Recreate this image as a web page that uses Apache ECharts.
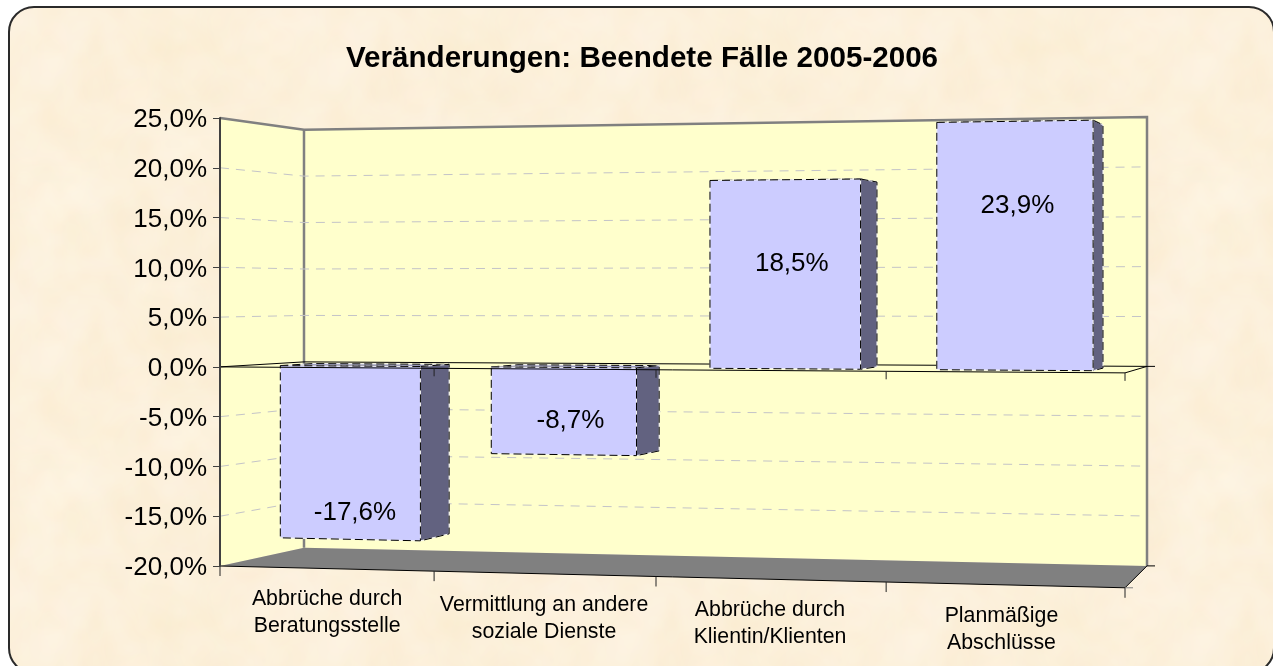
<!DOCTYPE html>
<html><head><meta charset="utf-8">
<style>html,body{margin:0;padding:0;background:#fff}#c{width:1273px;height:666px}</style>
<script src="https://cdn.jsdelivr.net/npm/echarts@6/dist/echarts.min.js"></script>
</head><body><div id="c"></div>
<script>
// ---- data ----
const titleText = 'Veränderungen: Beendete Fälle 2005-2006';
const categories = ['Abbrüche durch\nBeratungsstelle', 'Vermittlung an andere\nsoziale Dienste', 'Abbrüche durch\nKlientin/Klienten', 'Planmäßige\nAbschlüsse'];
const values = [-17.6, -8.7, 18.5, 23.9];
const gridValues = [20, 15, 10, 5, -5, -10, -15];
const yMin = -20, yMax = 25, yStep = 5;
// ---- style / projection constants ----
const FONT = '"Liberation Sans", Arial, sans-serif';
const grid = {left: 220, top: 118, width: 905, height: 448};
const warpC = 0.07036;               // horizontal perspective of the front plane
const shift = {left: 84, right: 22}; // front->back x shift
const plane = {                      // zero line and vertical scale (relative to y-axis) per plane
  frontY0: [0, 6], frontS: [1, 1.0793],
  backY0: [-5, -0.5], backS: [0.933, 1.002]
};
const barU = [0.17, 0.838], barD = [0.3, 0.7];
const labelFrac = [0.847, 0.61, 0.555, 0.66];
const labelDx = [5, 7, 7, 3];
const catDx = [1, 0, 0, -3];

const lerp = (a, b, t) => a + (b - a) * t;
function projector(api) {
  const zeroY = api.coord([0, 0])[1];
  return function (u, v, d) {
    const n = u / categories.length;
    const t = n * (1 - warpC) / (1 - warpC * n);
    const xF = grid.left + t * grid.width;
    const x = xF + lerp(shift.left, shift.right, t) * d;
    const dy = api.coord([0, v])[1] - zeroY;
    const y0 = lerp(lerp(plane.frontY0[0], plane.frontY0[1], t), lerp(plane.backY0[0], plane.backY0[1], t), d);
    const s = lerp(lerp(plane.frontS[0], plane.frontS[1], t), lerp(plane.backS[0], plane.backS[1], t), d);
    return [x, zeroY + y0 + dy * s];
  };
}
const poly = (pts, fill, z2) => ({type: 'polygon', shape: {points: pts}, z2: z2 || 0, style: {fill: fill, stroke: 'none'}});
const line = (a, b, stroke, w, dash, z2) => ({type: 'line', z2: z2 || 1, shape: {x1: a[0], y1: a[1], x2: b[0], y2: b[1]},
  style: {stroke: stroke, lineWidth: w || 1, lineDash: dash || null, fill: 'none'}});
const pl = (pts, stroke, w, dash, z2) => ({type: 'polyline', z2: z2 || 1, shape: {points: pts},
  style: {stroke: stroke, lineWidth: w || 1, lineDash: dash || null, fill: 'none'}});

function renderWalls(params, api) {
  const P = projector(api), U = categories.length;
  const ch = [];
  ch.push(poly([P(0, yMax, 0), P(0, yMax, 1), P(0, yMin, 1), P(0, yMin, 0)], '#FFFFCC'));
  ch.push(poly([P(0, yMax, 1), P(U, yMax, 1), P(U, yMin, 1), P(0, yMin, 1)], '#FFFFCC'));
  ch.push(line(P(0, yMax, 1), P(0, yMin, 1), '#808080', 2.5, null, 1));
  ch.push(poly([P(0, yMin, 0), P(0, yMin, 1), P(U, yMin, 1), P(U, yMin, 0)], '#808080', 2));
  gridValues.forEach(v => {
    ch.push(pl([P(0, v, 0), P(0, v, 1), P(U, v, 1)], '#c4c4c8', 1, [9, 7], 1));
  });
  ch.push(pl([P(0, yMax, 0), P(0, yMax, 1), P(U, yMax, 1), P(U, yMin, 1)], '#808080', 2.5, null, 3));
  ch.push(pl([P(0, 0, 0), P(0, 0, 1), P(U, 0, 1)], '#000', 1, null, 3));
  return {type: 'group', children: ch};
}
function renderBars(params, api) {
  const P = projector(api), i = api.value(0), v = api.value(1);
  const u0 = i + barU[0], u1 = i + barU[1], d0 = barD[0], d1 = barD[1];
  const ch = [];
  const outline = pts => {
    const closed = pts.concat([pts[0]]);
    ch.push(pl(closed, '#f4f4f4', 1));
    ch.push(pl(closed, '#000', 1, [8, 4]));
  };
  const top = Math.max(v, 0), bot = Math.min(v, 0);
  const topFace = [P(u0, top, d0), P(u0, top, d1), P(u1, top, d1), P(u1, top, d0)];
  ch.push(poly(topFace, '#9999C0'));
  outline(topFace);
  const side = [P(u1, top, d0), P(u1, top, d1), P(u1, bot, d1), P(u1, bot, d0)];
  ch.push(poly(side, '#626280'));
  outline(side);
  const front = [P(u0, top, d0), P(u1, top, d0), P(u1, bot, d0), P(u0, bot, d0)];
  ch.push(poly(front, '#CCCCFF'));
  outline(front);
  const c = P(i + (barU[0] + barU[1]) / 2, v * labelFrac[i], d0);
  ch.push({type: 'text', style: {text: String(v.toFixed(1)).replace('.', ',') + '%',
    x: c[0] + labelDx[i], y: c[1], align: 'center', verticalAlign: 'middle', fill: '#000', font: '26px ' + FONT}});
  ch.forEach((e, k) => { e.z2 = k; });
  return {type: 'group', children: ch};
}
function renderFront(params, api) {
  const P = projector(api), U = categories.length;
  const ch = [];
  ch.push(pl([P(0, 0, 0), P(U, 0, 0), P(U, 0, 1)], '#000', 1));
  ch.push(pl([P(0, yMin, 0), P(U, yMin, 0), P(U, yMin, 1)], '#000', 1));
  for (let u = 0; u <= U; u++) {
    const a = P(u, yMin, 0); ch.push(line(a, [a[0], a[1] + 10], '#222', 1));
    if (u > 0) { const b = P(u, 0, 0); ch.push(line(b, [b[0], b[1] + 8], '#222', 1)); }
  }
  const e1 = P(U, 0, 1), e2 = P(U, yMin, 1), e3 = P(U, yMin, 0);
  ch.push(line(e1, [e1[0] + 8, e1[1]], '#000', 1));
  ch.push(line(e2, [e2[0] + 8, e2[1]], '#000', 1));
  ch.push(line(e3, [e3[0] + 8, e3[1]], '#808080', 1));
  categories.forEach((c, i) => {
    const p = P(i + 0.5, yMin, 0);
    ch.push({type: 'text', style: {text: c, x: p[0] + catDx[i], y: p[1] + 44.5, align: 'center', verticalAlign: 'middle',
      fill: '#000', font: '21.3px ' + FONT, lineHeight: 27}});
  });
  return {type: 'group', children: ch};
}
// parchment tile (purely decorative background texture), seamless by wrapping the low-res noise
function parchment() {
  const N = 288, cv = document.createElement('canvas'); cv.width = cv.height = N;
  const g = cv.getContext('2d');
  g.fillStyle = '#FCF0DB'; g.fillRect(0, 0, N, N);
  const h = (a, b) => { const s = Math.sin(a * 127.1 + b * 311.7) * 43758.5453; return s - Math.floor(s); };
  [[48, 0.3], [24, 0.3], [12, 0.2]].forEach(([cell, al]) => {
    const M = N / cell, low = document.createElement('canvas'); low.width = low.height = M + 2;
    const lg = low.getContext('2d');
    for (let y = 0; y < M + 2; y++) for (let x = 0; x < M + 2; x++) {
      const r = h((x % M) + cell, (y % M) * 1.3 + cell);
      lg.fillStyle = r > 0.5 ? 'rgba(255,247,234,' + (r - 0.5) * 2 * al + ')' : 'rgba(248,232,200,' + (0.5 - r) * 2 * al + ')';
      lg.fillRect(x, y, 1, 1);
    }
    g.imageSmoothingEnabled = true; g.imageSmoothingQuality = 'high';
    g.drawImage(low, -cell / 2, -cell / 2, N + 2 * cell, N + 2 * cell);
  });
  return cv;
}
const chart = echarts.init(document.getElementById('c'), null, {renderer: 'canvas'});
chart.setOption({
  animation: false,
  backgroundColor: '#fff',
  graphic: [{type: 'rect', silent: true, z: 0,
    shape: {x: 9, y: 7, width: 1265, height: 666, r: 25},
    style: {fill: {image: parchment(), repeat: 'repeat'}, stroke: '#2a2a2a', lineWidth: 2}}],
  title: {text: titleText, left: 637, top: 54, textAlign: 'center', textVerticalAlign: 'middle',
    textStyle: {fontFamily: FONT, fontSize: 29.6, fontWeight: 'bold', color: '#000'}},
  grid: {left: grid.left, top: grid.top, width: grid.width, height: grid.height, containLabel: false},
  xAxis: {type: 'category', data: categories, show: false},
  yAxis: {type: 'value', min: yMin, max: yMax, interval: yStep, z: 5,
    axisLine: {show: true, onZero: false, lineStyle: {color: '#404040', width: 2}},
    axisTick: {show: true, length: 7, lineStyle: {color: '#404040', width: 1}},
    splitLine: {show: false},
    axisLabel: {margin: 13, color: '#000', fontFamily: FONT, fontSize: 26,
      formatter: v => '{t|' + v.toFixed(1).replace('.', ',') + '%}',
      rich: {t: {fontFamily: FONT, fontSize: 26, color: '#000', lineHeight: 30, padding: [4, 0, 0, 0]}}}},
  series: [
    {type: 'custom', z: 2, silent: true, renderItem: renderWalls, data: [[0, 0]]},
    {type: 'custom', z: 3, silent: true, renderItem: renderBars, data: values.map((v, i) => [i, v])},
    {type: 'custom', z: 4, silent: true, renderItem: renderFront, data: [[0, 0]]}
  ]
});
</script></body></html>
